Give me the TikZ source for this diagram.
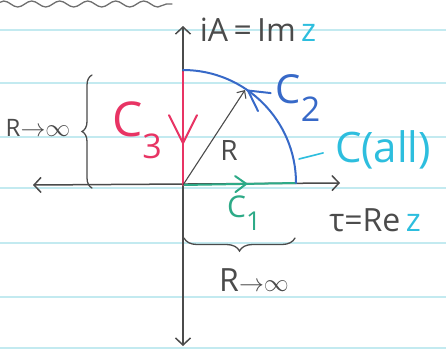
\documentclass[tikz,border=0pt]{standalone}
\usepackage{fontspec}
\setmainfont{Open Sans}
\usetikzlibrary{arrows.meta,decorations.pathreplacing,decorations.markings,decorations.pathmorphing}
\definecolor{ink}{RGB}{75,75,75}
\definecolor{pinkC}{RGB}{232,52,100}
\definecolor{blueC}{RGB}{55,105,200}
\definecolor{cyanC}{RGB}{45,190,222}
\definecolor{greenC}{RGB}{45,170,135}
\definecolor{paper}{RGB}{195,234,240}
\newcommand\lowidx[2]{\raisebox{-0.45em}{\fontsize{#1}{#1}\selectfont #2}}
\begin{document}
\begin{tikzpicture}[x=1pt, y=-1pt, line cap=round, >={Straight Barb[length=7pt,width=15pt]},
    every node/.style={inner sep=0pt, text=ink},
    axis/.style={<->, ink, line width=1.5pt},
    brace/.style={decorate, decoration={brace, amplitude=#1}, ink, line width=1.3pt},
    tipat/.style args={#1 size #2/#3}{postaction={decorate}, decoration={markings, mark=at position #1 with {\draw[line width=2pt] (-#2pt,-#3pt) -- (0,0) -- (-#2pt,#3pt);}}}]
    \fill[white] (0,0) rectangle (446,360);
    \useasboundingbox (0,0) rectangle (446,360);
    \foreach \ly in {30,83,137,188,243,297,348}
        \draw[paper, line width=1.6pt] (0,\ly) -- (446,\ly);
    \draw[ink!80, line width=1.3pt, decorate, decoration={snake, amplitude=3pt, segment length=28pt}] (-5,4) -- (172,4);
    \coordinate (O) at (183,185);
    \coordinate (top) at (183,26);
    \coordinate (bot) at (183,346);
    \coordinate (left) at (33,185);
    \coordinate (right) at (340,183);
    \coordinate (A) at (183,72);
    \coordinate (B) at (296,183);
    \coordinate (P) at (245,90);
    \coordinate (Q) at (299,159);
    \draw[axis] (bot) -- (top);
    \draw[axis] (left) -- (right);
    \draw[greenC, line width=2pt, tipat=0.56 size 11/8] (O) -- (B);
    \draw[blueC, line width=2pt, tipat=0.61 size 20/11] (B) arc[start angle=0, end angle=-90, radius=113];
    \draw[pinkC, line width=2.2pt, tipat=0.63 size 28/14] (A) -- (O);
    \draw[->, ink, line width=1.1pt, >={Straight Barb[length=6pt,width=11pt]}] (O) -- (P);
    \draw[brace=10pt] (92,188) -- (92,75);
    \draw[brace=13pt] (295,238) -- (184,238);
    \node[font=\fontsize{32}{32}\selectfont] (imlab) at (258,30) {iA\,=\,Im\,\textcolor{cyanC}{z}};
    \node[font=\fontsize{32}{32}\selectfont] (relab) at (375,220) {τ=Re\,\textcolor{cyanC}{z}};
    \node[font=\fontsize{24}{24}\selectfont] (lim1) at (38,128) {R{$\to$}{$\infty$}};
    \node[font=\fontsize{32}{32}\selectfont] (lim2) at (254,280) {R{$\to$}{$\infty$}};
    \node[font=\fontsize{48}{48}\selectfont, text=pinkC] (c3) at (137,130) {C\lowidx{34}{3}};
    \node[font=\fontsize{28}{28}\selectfont] (rlab) at (229,150) {R};
    \node[font=\fontsize{40}{40}\selectfont, text=blueC] (c2) at (298,98) {C\lowidx{34}{2}};
    \node[font=\fontsize{42}{42}\selectfont, text=cyanC] (allab) at (383,150) {C(all)};
    \draw[cyanC, line width=1.6pt, shorten <=12pt] (allab.west) -- (Q);
    \node[font=\fontsize{30}{30}\selectfont, text=greenC] (c1) at (244,213) {C\lowidx{26}{1}};
\end{tikzpicture}
\end{document}
